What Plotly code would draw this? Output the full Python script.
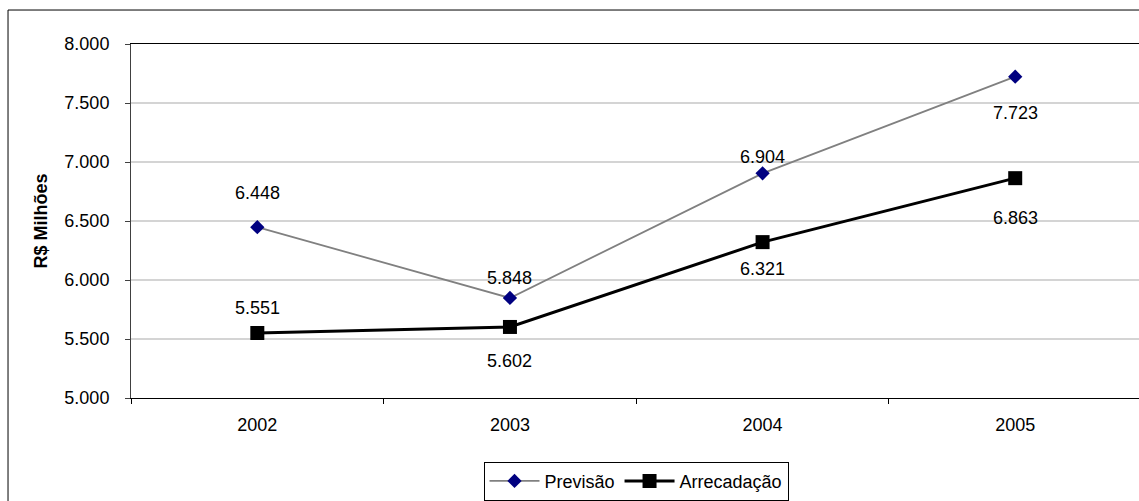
import plotly.graph_objects as go

# Revenue forecast vs. collected revenue, R$ millions
anos = ["2002", "2003", "2004", "2005"]
previsao = [6448, 5848, 6904, 7723]
arrecadacao = [5551, 5602, 6321, 6863]

# vertical offsets (px) of the value labels relative to each point
desloc_previsao = [34, 20, 16, -36]
desloc_arrecadacao = [25, -34, -27, -40]

FONT = "Liberation Sans, Arial, sans-serif"
FS = 18


def fmt(v):
    return f"{v:,}".replace(",", ".")


fig = go.Figure()
fig.add_trace(go.Scatter(
    x=anos, y=previsao, name="Previsão", mode="lines+markers",
    line=dict(color="#808080", width=1.8),
    marker=dict(symbol="diamond", size=11, color="#000080"),
))
fig.add_trace(go.Scatter(
    x=anos, y=arrecadacao, name="Arrecadação", mode="lines+markers",
    line=dict(color="#000000", width=3),
    marker=dict(symbol="square", size=14, color="#000000"),
))

annotations = []
for serie, desloc in ((previsao, desloc_previsao), (arrecadacao, desloc_arrecadacao)):
    for i, (v, d) in enumerate(zip(serie, desloc)):
        annotations.append(dict(
            x=i, y=v, xref="x", yref="y", text=fmt(v), showarrow=False, yshift=d,
            font=dict(family=FONT, size=FS, color="#000000"),
        ))

fig.update_layout(
    width=1139, height=501,
    margin=dict(l=131, r=0, t=44, b=103),
    paper_bgcolor="white", plot_bgcolor="white",
    separators=",.",
    font=dict(family=FONT, size=FS, color="#000000"),
    showlegend=True,
    legend=dict(
        orientation="h", x=0.501, xanchor="center", y=-0.18, yanchor="top",
        bordercolor="#000000", borderwidth=1, bgcolor="white",
        font=dict(family=FONT, size=FS), itemwidth=50,
    ),
    annotations=annotations,
    shapes=[dict(
        type="rect", xref="paper", yref="paper",
        x0=-0.122, x1=1.2, y0=-0.6, y1=1.096,
        line=dict(color="#000000", width=1), layer="below",
    )],
)

fig.update_xaxes(
    type="category", range=[-0.5, 3.49],
    showline=True, linecolor="#000000", linewidth=1, mirror=True,
    ticks="outside", ticklen=5, tickcolor="#000000", tickson="boundaries",
    showgrid=False, ticklabelstandoff=10, automargin=False,
    tickfont=dict(family=FONT, size=FS),
)
fig.update_yaxes(
    range=[5000, 8000], dtick=500, tickformat=",d",
    showline=True, linecolor="#404040", linewidth=1,
    ticks="outside", ticklen=5, tickcolor="#404040",
    showgrid=True, gridcolor="#d4d4d4", gridwidth=1.5,
    zeroline=False, automargin=False, ticklabelstandoff=12,
    tickfont=dict(family=FONT, size=FS),
    title=dict(text="<b>R$ Milhões</b>", font=dict(family=FONT, size=FS), standoff=12),
)

fig.write_html("out.html")
